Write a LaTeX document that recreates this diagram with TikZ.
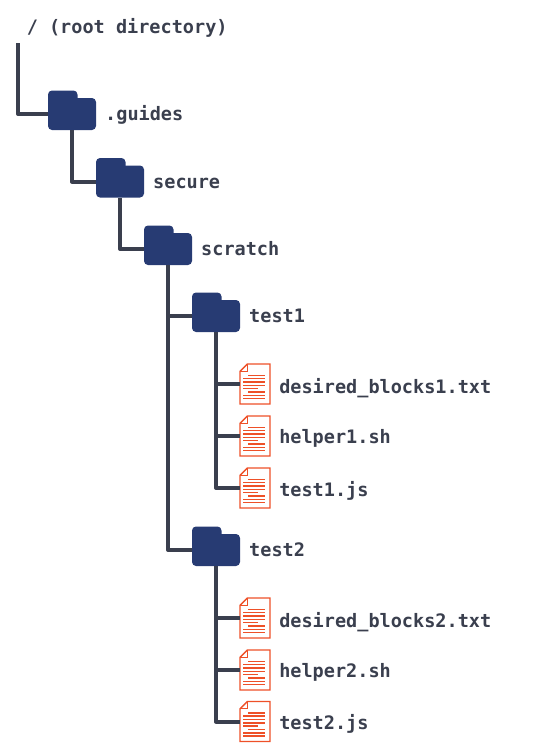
\documentclass[tikz,border=0pt]{standalone}
\usepackage{fontspec}
\setmonofont{DejaVu Sans Mono}
\usepackage{xcolor}
\usetikzlibrary{positioning,calc}
\definecolor{foldercol}{HTML}{273B73}
\definecolor{linecol}{HTML}{3A3F4E}
\definecolor{filecol}{HTML}{EE5028}
\tikzset{
  tree/.style={draw=linecol, line width=3pt, line join=round},
  lbl/.style={anchor=west, inner sep=0pt, text height=9.8pt, text depth=0pt, text=linecol, font=\ttfamily\bfseries\fontsize{13.9}{16}\selectfont},
  folderbody/.style={fill=foldercol, rounded corners=3pt, minimum width=36pt, minimum height=24pt, inner sep=0pt},
  filebody/.style={minimum width=22pt, minimum height=29.6pt, inner sep=0pt}
}
\newcommand{\foldernode}[3]{%
  \fill[foldercol, rounded corners=3pt] (#2-24,-#3) rectangle (#2+5.5,-#3+23.5);
  \node[folderbody] (#1) at (#2,-#3) {};
}
\newcommand{\filenode}[3]{%
  \node[filebody] (#1) at (#2,-#3) {};
  \draw[filecol, line width=1pt, fill=white] ($(#1.north west)+(5.5pt,0)$) -- (#1.north east) -- (#1.south east) -- (#1.south west) -- ($(#1.north west)+(0,-5.5pt)$) -- cycle;
  \draw[filecol, line width=0.7pt] ($(#1.north west)+(0,-5.5pt)$) -- ($(#1.north west)+(5.5pt,-5.5pt)$) -- ($(#1.north west)+(5.5pt,0)$);
  \foreach \yy/\xa/\xb in {8.5/6/18.5,11/2.2/18.5,13.5/2.2/18.5,16/2.2/18.5,18.5/2.2/13.5,21/6/18.5,23.5/2.2/18.5,26/2.2/18.5}
    \draw[filecol, line width=1.15pt] ($(#1.north west)+(\xa pt,-\yy pt)$) -- ($(#1.north west)+(\xb pt,-\yy pt)$);
}
\begin{document}
\begin{tikzpicture}[x=0.75pt,y=0.75pt]
\useasboundingbox (0,0) rectangle (533,-750);
\node[lbl] (root) at (26.5,-27) {/ (root directory)};
\coordinate (start) at (18,-43);

\foldernode{guides}{72}{114}
\foldernode{secure}{120}{181.5}
\foldernode{scratch}{168}{249}
\foldernode{testa}{216}{316}
\foldernode{testb}{216}{550}

\filenode{fa}{255}{384}
\filenode{fb}{255}{436}
\filenode{fc}{255}{488}
\filenode{fd}{255}{618}
\filenode{fe}{255}{670}
\filenode{ff}{255}{721.5}

% tree lines
\draw[tree] (start) |- (guides.west);
\draw[tree] (guides.south) |- (secure.west);
\draw[tree] (secure.south) |- (scratch.west);
\draw[tree] (scratch.south) |- (testa.west);
\draw[tree] (scratch.south) |- (testb.west);
\draw[tree] (testa.south) |- (fa.west);
\draw[tree] (testa.south) |- (fb.west);
\draw[tree] (testa.south) |- (fc.west);
\draw[tree] (testb.south) |- (fd.west);
\draw[tree] (testb.south) |- (fe.west);
\draw[tree] (testb.south) |- (ff.west);

\node[lbl, right=6.5pt of guides.east] (lguides) {.guides};
\node[lbl, right=6.5pt of secure.east] (lsecure) {secure};
\node[lbl, right=6.5pt of scratch.east] (lscratch) {scratch};
\node[lbl, right=6.5pt of testa.east] (ltesta) {test1};
\node[lbl, right=6.5pt of testb.east] (ltestb) {test2};
\node[lbl] (lfa) at (279,-386.5) {desired\_blocks1.txt};
\node[lbl] (lfb) at (279,-436.5) {helper1.sh};
\node[lbl] (lfc) at (279,-490) {test1.js};
\node[lbl] (lfd) at (279,-620.5) {desired\_blocks2.txt};
\node[lbl] (lfe) at (279,-670.5) {helper2.sh};
\node[lbl] (lff) at (279,-723) {test2.js};
\end{tikzpicture}
\end{document}
